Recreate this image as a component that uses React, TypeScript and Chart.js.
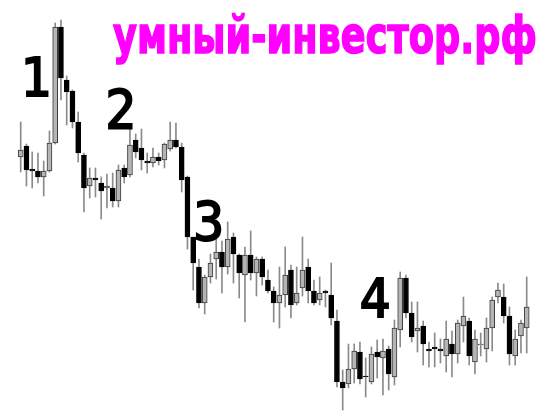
import React, { useEffect, useRef } from "react";
import { Chart, registerables } from "chart.js";

Chart.register(...registerables);

const opens = [254,265,242,240,234,240,268,384,331,320,289,256,225,233,228,223,223,210,243,236,271,263,250,248,254,251,262,271,264,234,174,144,108,134,152,159,144,174,156,136,156,138,152,131,120,108,116,141,108,123,144,120,111,120,116,90,29,27,42,59,35,29,59,53,62,34,81,133,98,80,85,62,64,62,55,67,57,85,90,49,66,62,83,114,114,95,55,75,83];
const closes = [261,241,240,234,240,268,384,333,319,289,258,223,233,231,220,225,210,241,234,266,259,251,248,254,250,267,271,264,231,174,148,108,134,148,159,144,172,157,138,156,138,152,134,120,108,116,136,106,118,141,120,108,118,118,93,29,23,42,60,32,34,57,54,60,37,83,133,98,74,83,67,60,62,60,72,57,88,95,55,72,67,83,111,121,95,57,72,88,104];
const highs = [289,267,259,258,250,280,388,391,335,321,299,258,243,243,234,237,238,246,246,284,277,282,258,263,258,268,289,288,268,235,174,152,136,157,173,170,189,178,157,164,180,154,154,141,124,144,164,146,144,174,152,131,134,121,148,101,41,67,67,69,53,64,71,72,65,91,139,136,109,109,90,69,78,72,90,80,91,114,93,81,78,93,114,128,127,104,81,91,134];
const lows = [239,225,223,228,215,239,267,311,286,283,249,199,213,214,192,203,204,204,228,234,253,241,238,244,246,243,260,263,219,162,121,103,97,128,132,118,137,128,113,89,131,115,126,118,89,83,104,93,106,115,108,106,106,104,86,24,1,23,28,27,14,27,33,16,21,26,64,93,69,59,46,44,44,48,39,34,48,69,46,37,55,49,60,108,88,46,46,58,58];

const siteText = "умный-инвестор.рф";
const waveLabels = ["1", "2", "3", "4"];
const waveLabelIndex = [1, 15, 30, 58];

export default function App() {
  const ref = useRef<HTMLCanvasElement | null>(null);
  useEffect(() => {
    if (!ref.current) return;
    const wickData = opens.map((_, i) => ({ x: i, y: [lows[i], highs[i]] }));
    const bodyData = opens.map((o, i) => ({ x: i, y: [o, closes[i]] }));
    const up = opens.map((o, i) => closes[i] >= o);
    const textPlugin = {
      id: "texts",
      afterDraw(chart: any) {
        const ctx = chart.ctx;
        ctx.save();
        ctx.fillStyle = "#ff00ff";
        ctx.strokeStyle = "#ff00ff";
        ctx.lineWidth = 1.5;
        ctx.font = "bold 52px 'DejaVu Sans Condensed', 'DejaVu Sans'";
        ctx.textBaseline = "alphabetic";
        ctx.textAlign = "left";
        ctx.fillText(siteText, 113, 53, 424);
        ctx.strokeText(siteText, 113, 53, 424);
        ctx.fillStyle = "#000";
        ctx.strokeStyle = "#000";
        ctx.lineWidth = 2;
        ctx.textAlign = "center";
        ctx.font = "54px 'DejaVu Sans Condensed', 'DejaVu Sans'";
        const xs = chart.scales.x;
        const offs = [[10, 96], [14, 128], [15.5, 240], [21, 317]];
        waveLabels.forEach((t, k) => {
          const px = xs.getPixelForValue(waveLabelIndex[k]);
          ctx.fillText(t, px + offs[k][0], offs[k][1]);
          ctx.strokeText(t, px + offs[k][0], offs[k][1]);
        });
        ctx.restore();
      },
    };
    const chart = new Chart(ref.current, {
      type: "bar",
      data: {
        datasets: [
          {
            data: wickData as any,
            backgroundColor: "#8a8a8a",
            borderWidth: 0,
            barThickness: 1,
            grouped: false,
            order: 2,
          } as any,
          {
            data: bodyData as any,
            backgroundColor: up.map((u) => (u ? "#b5b5b5" : "#000000")),
            borderColor: up.map((u) => (u ? "#3a3a3a" : "#000000")),
            borderWidth: 1,
            borderSkipped: false,
            barThickness: 5,
            grouped: false,
            order: 1,
          } as any,
        ],
      },
      options: {
        animation: false,
        responsive: true,
        maintainAspectRatio: false,
        layout: { padding: 0 },
        plugins: { legend: { display: false }, tooltip: { enabled: false } },
        scales: {
          x: { type: "linear", display: false, offset: false, bounds: "data", min: -20.7 / 5.75, max: (543 - 20.7) / 5.75 },
          y: { display: false, min: 0, max: 411 },
        },
      },
      plugins: [textPlugin],
    });
    return () => chart.destroy();
  }, []);
  return (
    <div style={{ position: "absolute", left: 0, top: 0, width: 543, height: 411, background: "#fff" }}>
      <canvas ref={ref} />
    </div>
  );
}
